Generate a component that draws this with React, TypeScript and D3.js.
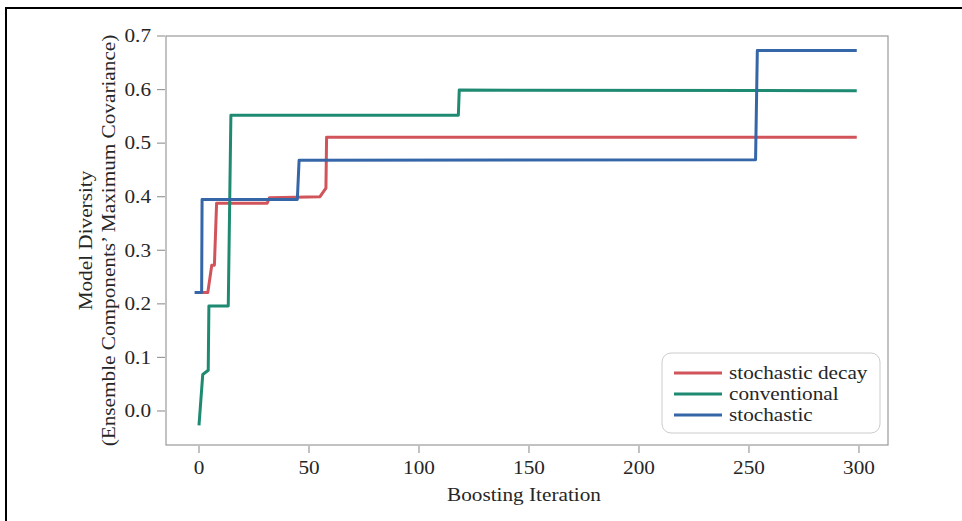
import React from "react";
import * as d3 from "d3";

const seriesNames = ["stochastic decay", "conventional", "stochastic"];
const seriesColors = ["#d1545a", "#1f8a72", "#3566a8"];

const decayX = [0, 4, 5.8, 7, 8, 31, 32, 55, 57.7, 58, 299];
const decayY = [0.221, 0.221, 0.272, 0.272, 0.388, 0.388, 0.398, 0.4, 0.416, 0.511, 0.511];

const convX = [0, 1.7, 4.2, 4.5, 13.3, 14.5, 117.9, 118.3, 299];
const convY = [-0.027, 0.068, 0.076, 0.196, 0.196, 0.552, 0.552, 0.599, 0.598];

const stochX = [-2, 1.2, 1.4, 44.7, 45.5, 253, 253.8, 299];
const stochY = [0.221, 0.221, 0.395, 0.395, 0.468, 0.469, 0.673, 0.673];

const xTicks = [0, 50, 100, 150, 200, 250, 300];
const yTicks = [0.0, 0.1, 0.2, 0.3, 0.4, 0.5, 0.6, 0.7];

const xLabel = "Boosting Iteration";
const yLabel1 = "Model Diversity";
const yLabel2 = "(Ensemble Components’ Maximum Covariance)";

const SX = 1.18;
const textColor = "#262626";

function T(props: { x: number; y: number; rot?: number; anchor?: string; dy?: string; children: React.ReactNode }) {
  const { x, y, rot = 0, anchor = "start", dy = "0", children } = props;
  return (
    <text
      transform={`translate(${x},${y}) rotate(${rot}) scale(${SX},1)`}
      textAnchor={anchor}
      dy={dy}
      fontSize={18}
      fill={textColor}
    >
      {children}
    </text>
  );
}

export default function App() {
  const W = 962, H = 521;
  const left = 166, right = 888, top = 36, bottom = 445;
  const x = d3.scaleLinear().domain([-15, 313.2]).range([left, right]);
  const y = d3.scaleLinear().domain([-0.0635, 0.7]).range([bottom, top]);
  const line = d3.line<[number, number]>().x(d => x(d[0])).y(d => y(d[1]));
  const series = [
    decayX.map((v, i) => [v, decayY[i]] as [number, number]),
    convX.map((v, i) => [v, convY[i]] as [number, number]),
    stochX.map((v, i) => [v, stochY[i]] as [number, number]),
  ];
  const font = "'Liberation Serif', 'DejaVu Serif', serif";
  const axisColor = "#9a9a9a";
  const legX = 662, legY = 353;
  return (
    <svg width={W} height={H} style={{ position: "absolute", left: 0, top: 0 }} fontFamily={font}>
      <rect x={0} y={0} width={W} height={H} fill="#fff" />
      <line x1={5} y1={8} x2={W} y2={8} stroke="#000" strokeWidth={2} />
      <line x1={6} y1={7} x2={6} y2={H} stroke="#000" strokeWidth={2} />
      <rect x={left} y={top} width={right - left} height={bottom - top} fill="none" stroke={axisColor} strokeWidth={1.2} />
      {xTicks.map(t => (
        <g key={"x" + t}>
          <line x1={x(t)} x2={x(t)} y1={bottom + 1} y2={bottom + 8} stroke={axisColor} strokeWidth={1.2} />
          <T x={x(t)} y={bottom + 29} anchor="middle">{t}</T>
        </g>
      ))}
      {yTicks.map(t => (
        <g key={"y" + t}>
          <line x1={left - 9} x2={left - 1} y1={y(t)} y2={y(t)} stroke={axisColor} strokeWidth={1.2} />
          <T x={left - 15} y={y(t)} dy="0.35em" anchor="end">{t.toFixed(1)}</T>
        </g>
      ))}
      <T x={(left + right) / 2 - 3} y={501} anchor="middle">{xLabel}</T>
      <T x={92} y={(top + bottom) / 2} rot={-90} anchor="middle">{yLabel1}</T>
      <T x={115} y={(top + bottom) / 2} rot={-90} anchor="middle">{yLabel2}</T>
      {series.map((s, i) => (
        <path key={i} d={line(s) || ""} fill="none" stroke={seriesColors[i]} strokeWidth={3} strokeLinejoin="round" />
      ))}
      <rect x={legX} y={legY} width={218} height={80} rx={9} fill="#fff" stroke="#cccccc" strokeWidth={1} />
      {seriesNames.map((n, i) => (
        <g key={n}>
          <line x1={legX + 12} x2={legX + 60} y1={legY + 20 + i * 21} y2={legY + 20 + i * 21} stroke={seriesColors[i]} strokeWidth={3} />
          <T x={legX + 67} y={legY + 20 + i * 21} dy="0.32em">{n}</T>
        </g>
      ))}
    </svg>
  );
}
